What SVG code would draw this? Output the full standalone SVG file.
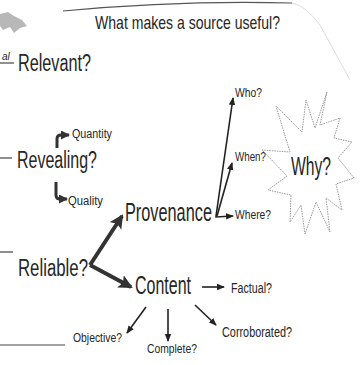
<svg xmlns="http://www.w3.org/2000/svg" width="360" height="365" viewBox="0 0 360 365">
<style>
text{font-family:"Liberation Sans",Arial,sans-serif;fill:#262626}
.c{stroke:#222;fill:none;stroke-width:1.6}
.thick{stroke:#333;fill:none;stroke-width:4}
.bend{stroke:#333;fill:none;stroke-width:3}
.line{stroke:#444;stroke-width:1.2}
</style>
<defs>
<marker id="ah" markerUnits="userSpaceOnUse" markerWidth="8" markerHeight="8" viewBox="0 0 8 8" refX="7" refY="4" orient="auto"><path d="M0,0.8 L8,4 L0,7.2 Z" fill="#222"/></marker>
<marker id="big" markerUnits="userSpaceOnUse" markerWidth="14" markerHeight="14" viewBox="0 0 14 14" refX="12" refY="7" orient="auto"><path d="M0,0 L14,7 L0,14 L3,7 Z" fill="#333"/></marker>
<marker id="mid" markerUnits="userSpaceOnUse" markerWidth="9" markerHeight="9" viewBox="0 0 9 9" refX="8" refY="4.5" orient="auto"><path d="M0,0 L9,4.5 L0,9 Z" fill="#333"/></marker>
</defs>
<rect width="360" height="365" fill="#fff"/>
<g id="decor">
<path d="M0,14 L8,12 L14,16 L22,20 L27,26 L20,28 L14,33 L10,27 L3,30 L0,26 Z" fill="#888" opacity="0.6"/>
<path d="M292,3 Q305,5 320,25 L350,80" fill="none" stroke="#ddd" stroke-width="1"/>
<path d="M63,11 Q180,0 292,3" fill="none" stroke="#555" stroke-width="1.2"/>
<line class="line" x1="0" y1="63" x2="14" y2="63"/>
<line class="line" x1="0" y1="158" x2="12" y2="158"/>
<line class="line" x1="0" y1="252" x2="13" y2="252"/>
<line class="line" x1="0" y1="345" x2="65" y2="345"/>
<text x="2" y="60" font-size="10" font-style="italic" font-family="Liberation Serif,serif">al</text>
</g>
<g id="title"><text x="95" y="29" font-size="19" textLength="185" lengthAdjust="spacingAndGlyphs" fill="#444">What makes a source useful?</text></g>
<g id="relevant"><text x="18" y="71" font-size="23" textLength="73" lengthAdjust="spacingAndGlyphs">Relevant?</text></g>
<g id="revealing"><text x="17" y="168" font-size="23" textLength="80" lengthAdjust="spacingAndGlyphs">Revealing?</text></g>
<g id="quantity"><text x="72" y="138" font-size="12" textLength="40" lengthAdjust="spacingAndGlyphs">Quantity</text></g>
<g id="quality"><text x="68" y="205" font-size="12" textLength="35" lengthAdjust="spacingAndGlyphs">Quality</text></g>
<g id="reliable"><text x="18" y="276" font-size="23" textLength="70" lengthAdjust="spacingAndGlyphs">Reliable?</text></g>
<g id="provenance"><text transform="translate(125,221) scale(0.627,1)" font-size="26">Provenance</text></g>
<g id="content"><text x="135" y="294" font-size="26" textLength="56" lengthAdjust="spacingAndGlyphs">Content</text></g>
<g id="factual"><text x="231" y="293" font-size="14" textLength="41" lengthAdjust="spacingAndGlyphs">Factual?</text></g>
<g id="objective"><text x="73" y="342" font-size="13" textLength="49" lengthAdjust="spacingAndGlyphs">Objective?</text></g>
<g id="complete"><text x="147" y="353" font-size="13" textLength="50" lengthAdjust="spacingAndGlyphs">Complete?</text></g>
<g id="corroborated"><text x="222" y="337" font-size="14" textLength="70" lengthAdjust="spacingAndGlyphs">Corroborated?</text></g>
<g id="who"><text x="235" y="97" font-size="12" textLength="27" lengthAdjust="spacingAndGlyphs">Who?</text></g>
<g id="when"><text x="235" y="161" font-size="12" textLength="31" lengthAdjust="spacingAndGlyphs">When?</text></g>
<g id="where"><text x="235" y="219" font-size="12" textLength="36" lengthAdjust="spacingAndGlyphs">Where?</text></g>
<g id="why">
<path d="M327,92 L320,125 L340,118 L334,138 L352,142 L338,158 L354,178 L336,184 L342,210 L326,198 L330,232 L316,202 L305,234 L301,205 L290,222 L291,195 L268,190 L287,176 L262,150 L290,152 L276,106 L302,132 L306,100 L315,128 Z" fill="none" stroke="#999" stroke-width="1" stroke-dasharray="1.5 1"/>
<text x="291" y="175" font-size="25" textLength="40" lengthAdjust="spacingAndGlyphs">Why?</text>
</g>
<g id="connectors">
<path class="bend" d="M57,148 L57,139 Q57,135 61,135 L69,135" marker-end="url(#mid)"/>
<path class="bend" d="M56,182 L56,195 Q56,199 60,199 L67,199" marker-end="url(#mid)"/>
<path class="thick" d="M90,265 L122,216" marker-end="url(#big)"/>
<path class="thick" d="M90,265 L131,287" marker-end="url(#big)"/>
<line class="c" x1="216" y1="216" x2="233" y2="98" marker-end="url(#ah)"/>
<line class="c" x1="217" y1="216" x2="232" y2="163" marker-end="url(#ah)"/>
<path class="c" d="M216,216 L216,217 L233,216" marker-end="url(#ah)"/>
<line class="c" x1="202" y1="287" x2="224" y2="287" marker-end="url(#ah)"/>
<line class="c" x1="146" y1="307" x2="127" y2="333" marker-end="url(#ah)"/>
<line class="c" x1="168" y1="309" x2="168" y2="341" marker-end="url(#ah)"/>
<line class="c" x1="195" y1="305" x2="216" y2="325" marker-end="url(#ah)"/>
</g>
</svg>
